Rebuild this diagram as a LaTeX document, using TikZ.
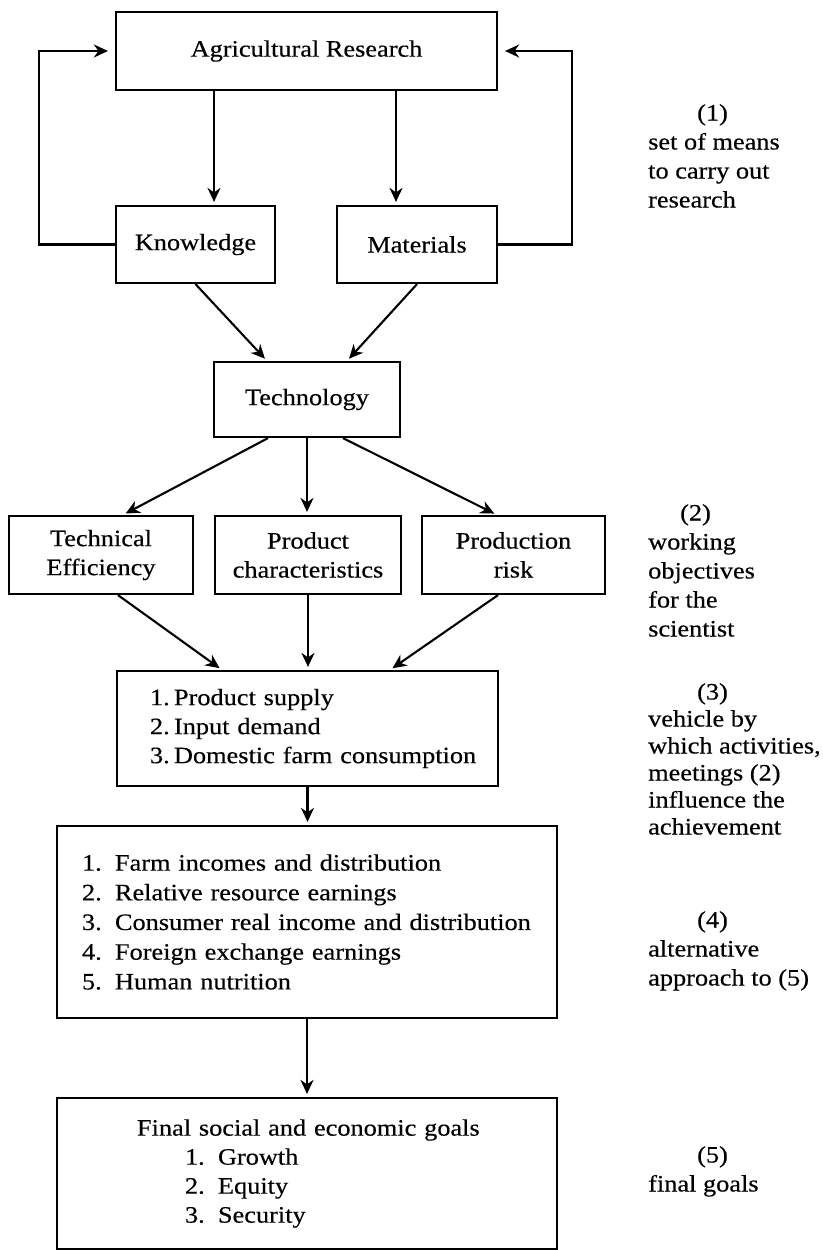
\documentclass[tikz,border=0pt]{standalone}
\usepackage{fontspec}
\setmainfont{Liberation Serif}[FakeStretch=1.12, FakeBold=0.4]
\usetikzlibrary{arrows.meta, positioning}

\begin{document}
\begin{tikzpicture}[
  x=1pt, y=-1pt,
  box/.style={rectangle, draw=black, line width=2.2pt, inner sep=0pt,
             align=center, font=\fontsize{23.5}{29}\selectfont},
  listbox/.style={box, align=left},
  note/.style={anchor=north west, inner sep=0pt, align=left,
              font=\fontsize{23.5}{29}\selectfont},
  arrow/.style={-{Stealth[length=14pt, width=13pt, inset=4.5pt]},
               line width=2.1pt, shorten >=3pt}
]
\useasboundingbox (0,0) rectangle (822,1250);

\node[box, minimum width=381pt, minimum height=78pt] (agri) at (306.5,51) {Agricultural Research};
\node[box, minimum width=159pt, minimum height=77pt] (know) at (195.5,244.5) {Knowledge};
\node[box, minimum width=160pt, minimum height=77pt] (mat) at (417,244.5) {Materials};
\node[box, minimum width=186pt, minimum height=75pt] (tech) at (307,399.5) {Technology};
\node[box, minimum width=184pt, minimum height=78pt] (teff) at (101,555) {Technical\\Efficiency};
\node[box, minimum width=186pt, minimum height=78pt] (pchar) at (308,555) {Product\\characteristics};
\node[box, minimum width=183pt, minimum height=78pt] (prisk) at (513.5,555) {Production\\risk};
\node[listbox, minimum width=381pt, minimum height=115pt, text width=360pt] (supply) at (307.5,728.5) {%
  \hspace*{22.5pt}\makebox[24pt][l]{1.}Product supply\\
  \hspace*{22.5pt}\makebox[24pt][l]{2.}Input demand\\
  \hspace*{22.5pt}\makebox[24pt][l]{3.}Domestic farm consumption};
\node[listbox, minimum width=500pt, minimum height=192pt, text width=450pt,
      font=\fontsize{23.5}{29.7}\selectfont] (impact) at (307,922) {%
  \makebox[33pt][l]{1.}Farm incomes and distribution\\
  \makebox[33pt][l]{2.}Relative resource earnings\\
  \makebox[33pt][l]{3.}Consumer real income and distribution\\
  \makebox[33pt][l]{4.}Foreign exchange earnings\\
  \makebox[33pt][l]{5.}Human nutrition};
\node[listbox, minimum width=500pt, minimum height=151pt, text width=420pt] (goals) at (307,1173.5) {%
  \hspace*{40pt}Final social and economic goals\\
  \hspace*{88pt}\makebox[33pt][l]{1.}Growth\\
  \hspace*{88pt}\makebox[33pt][l]{2.}Equity\\
  \hspace*{88pt}\makebox[33pt][l]{3.}Security};

% side notes
\node[note] (means) at (648,104) {\hspace*{49pt}(1)\\set of means\\to carry out\\research};
\node[note] (objectives) at (648,504) {\hspace*{32pt}(2)\\working\\objectives\\for the\\scientist};
\node[note, font=\fontsize{23.5}{27}\selectfont] (vehicle) at (648,683) {\hspace*{49pt}(3)\\vehicle by\\which activities,\\meetings (2)\\influence the\\achievement};
\node[note] (approach) at (648,911) {\hspace*{49pt}(4)\\alternative\\approach to (5)};
\node[note] (final) at (648,1146) {\hspace*{49pt}(5)\\final goals};

\draw[arrow] ([xshift=-92.5pt]agri.south) -- ([xshift=-92.5pt]agri.south |- know.north);
\draw[arrow] ([xshift=89.5pt]agri.south) -- ([xshift=89.5pt]agri.south |- mat.north);
\draw[arrow, shorten >=7pt] (know.west) -- ++(-76,0) |- (agri.west);
\draw[arrow, shorten >=7pt] (mat.east) -- ++(74,0) |- (agri.east);
\draw[arrow] (know.south) -- ([xshift=-40pt]tech.north);
\draw[arrow] (mat.south) -- ([xshift=40pt]tech.north);
\draw[arrow] ([xshift=-39pt]tech.south) -- ([xshift=22pt]teff.north);
\draw[arrow] (tech.south) -- (tech.south |- pchar.north);
\draw[arrow] ([xshift=36pt]tech.south) -- ([xshift=-16.5pt]prisk.north);
\draw[arrow] ([xshift=17pt]teff.south) -- ([xshift=-85.5pt]supply.north);
\draw[arrow] (pchar.south) -- (pchar.south |- supply.north);
\draw[arrow] ([xshift=-15.5pt]prisk.south) -- ([xshift=82.5pt]supply.north);
\draw[arrow] (supply.south) -- (supply.south |- impact.north);
\draw[arrow] (impact.south) -- (goals.north);

\end{tikzpicture}
\end{document}
